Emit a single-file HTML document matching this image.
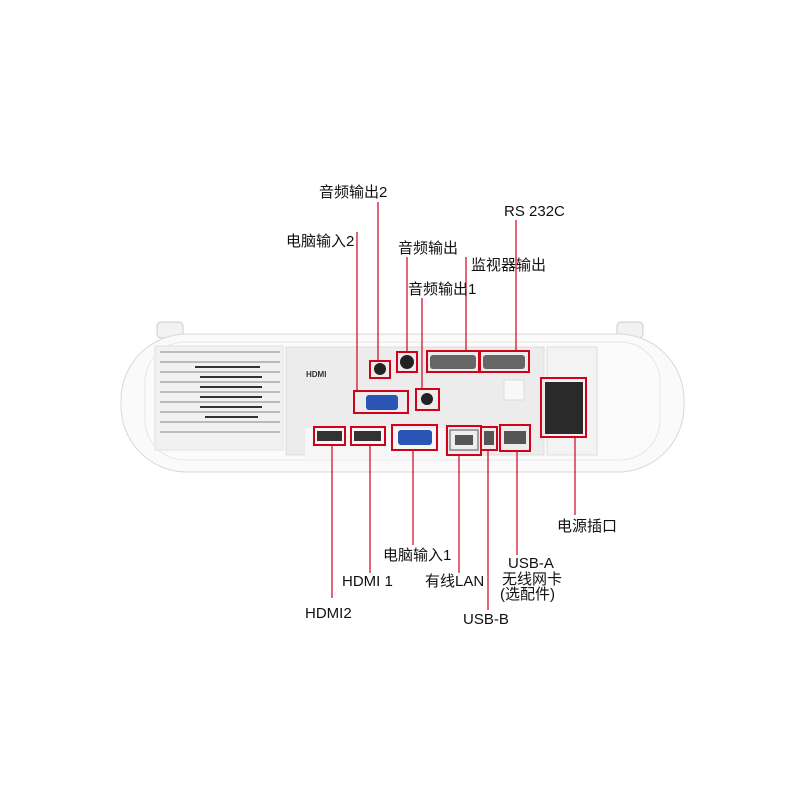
<!DOCTYPE html>
<html><head><meta charset="utf-8"><style>
html,body{margin:0;padding:0;background:#fff;}
svg{display:block}
text{font-family:"Liberation Sans","Noto Sans CJK SC",sans-serif;font-size:15px;fill:#111}
</style></head><body>
<svg width="800" height="800" viewBox="0 0 800 800" xmlns="http://www.w3.org/2000/svg">
<rect x="157" y="322" width="26" height="16" rx="4" fill="#f2f2f2" stroke="#ccc"/>
<rect x="617" y="322" width="26" height="16" rx="4" fill="#f2f2f2" stroke="#ccc"/>
<rect x="121" y="334" width="563" height="138" rx="66" fill="#fafafa" stroke="#d8d8d8"/>
<rect x="145" y="342" width="515" height="118" rx="40" fill="#fbfbfb" stroke="#e6e6e6"/>
<rect x="155" y="346" width="128" height="104" fill="#f1f1f1" stroke="#e2e2e2"/>
<g stroke="#bbb" stroke-width="2">
<line x1="160" y1="352" x2="280" y2="352"/><line x1="160" y1="362" x2="280" y2="362"/>
<line x1="160" y1="372" x2="280" y2="372"/><line x1="160" y1="382" x2="280" y2="382"/>
<line x1="160" y1="392" x2="280" y2="392"/><line x1="160" y1="402" x2="280" y2="402"/>
<line x1="160" y1="412" x2="280" y2="412"/><line x1="160" y1="422" x2="280" y2="422"/>
<line x1="160" y1="432" x2="280" y2="432"/>
</g>
<g stroke="#333" stroke-width="2">
<line x1="195" y1="367" x2="260" y2="367"/><line x1="200" y1="377" x2="262" y2="377"/>
<line x1="200" y1="387" x2="262" y2="387"/><line x1="200" y1="397" x2="262" y2="397"/>
<line x1="200" y1="407" x2="262" y2="407"/><line x1="205" y1="417" x2="258" y2="417"/>
</g>
<rect x="286" y="347" width="258" height="108" fill="#ececec" stroke="#ddd"/>
<rect x="305" y="428" width="140" height="32" fill="#f6f6f6"/>
<rect x="547" y="347" width="50" height="108" fill="#f3f3f3" stroke="#ddd"/>
<rect x="504" y="380" width="20" height="20" fill="#f8f8f8" stroke="#ddd"/>
<text x="306" y="377" style="font-size:8px;font-weight:bold;fill:#333">HDMI</text>
<circle cx="380" cy="369" r="6" fill="#222"/>
<circle cx="407" cy="362" r="7" fill="#222"/>
<rect x="430" y="355" width="46" height="14" rx="3" fill="#666"/>
<rect x="483" y="355" width="42" height="14" rx="3" fill="#666"/>
<rect x="366" y="395" width="32" height="15" rx="3" fill="#2a55b5"/>
<circle cx="427" cy="399" r="6" fill="#222"/>
<rect x="317" y="431" width="25" height="10" fill="#333"/>
<rect x="354" y="431" width="27" height="10" fill="#333"/>
<rect x="398" y="430" width="34" height="15" rx="3" fill="#2a55b5"/>
<rect x="450" y="430" width="28" height="20" fill="#eee" stroke="#555"/>
<rect x="455" y="435" width="18" height="10" fill="#555"/>
<rect x="484" y="431" width="10" height="14" fill="#555"/>
<rect x="504" y="431" width="22" height="13" fill="#555"/>
<rect x="545" y="382" width="38" height="52" fill="#2a2a2a"/>
<g fill="none" stroke="#d0021b" stroke-width="2">
<rect x="370" y="361" width="20" height="17"/>
<rect x="397" y="352" width="20" height="20"/>
<rect x="427" y="351" width="53" height="21"/>
<rect x="479" y="351" width="50" height="21"/>
<rect x="354" y="391" width="54" height="22"/>
<rect x="416" y="389" width="23" height="21"/>
<rect x="314" y="427" width="31" height="18"/>
<rect x="351" y="427" width="34" height="18"/>
<rect x="392" y="425" width="45" height="25"/>
<rect x="447" y="426" width="34" height="29"/>
<rect x="481" y="427" width="16" height="23"/>
<rect x="500" y="425" width="30" height="26"/>
<rect x="541" y="378" width="45" height="59"/>
</g>
<g stroke="#d0021b" stroke-width="1.2">
<line x1="378" y1="202" x2="378" y2="361"/>
<line x1="357" y1="232" x2="357" y2="391"/>
<line x1="407" y1="257" x2="407" y2="352"/>
<line x1="466" y1="257" x2="466" y2="351"/>
<line x1="422" y1="298" x2="422" y2="389"/>
<line x1="516" y1="220" x2="516" y2="351"/>
<line x1="332" y1="445" x2="332" y2="598"/>
<line x1="370" y1="445" x2="370" y2="573"/>
<line x1="413" y1="450" x2="413" y2="545"/>
<line x1="459" y1="455" x2="459" y2="573"/>
<line x1="488" y1="450" x2="488" y2="610"/>
<line x1="517" y1="451" x2="517" y2="555"/>
<line x1="575" y1="437" x2="575" y2="515"/>
</g>
<text x="319" y="197">音频输出2</text>
<text x="286" y="246">电脑输入2</text>
<text x="398" y="253">音频输出</text>
<text x="471" y="270">监视器输出</text>
<text x="408" y="294">音频输出1</text>
<text x="504" y="216">RS 232C</text>
<text x="305" y="618">HDMI2</text>
<text x="342" y="586">HDMI 1</text>
<text x="383" y="560">电脑输入1</text>
<text x="425" y="586">有线LAN</text>
<text x="463" y="624">USB-B</text>
<text x="508" y="568">USB-A</text>
<text x="502" y="584">无线网卡</text>
<text x="500" y="599">(选配件)</text>
<text x="557" y="531">电源插口</text>
</svg>
</body></html>
